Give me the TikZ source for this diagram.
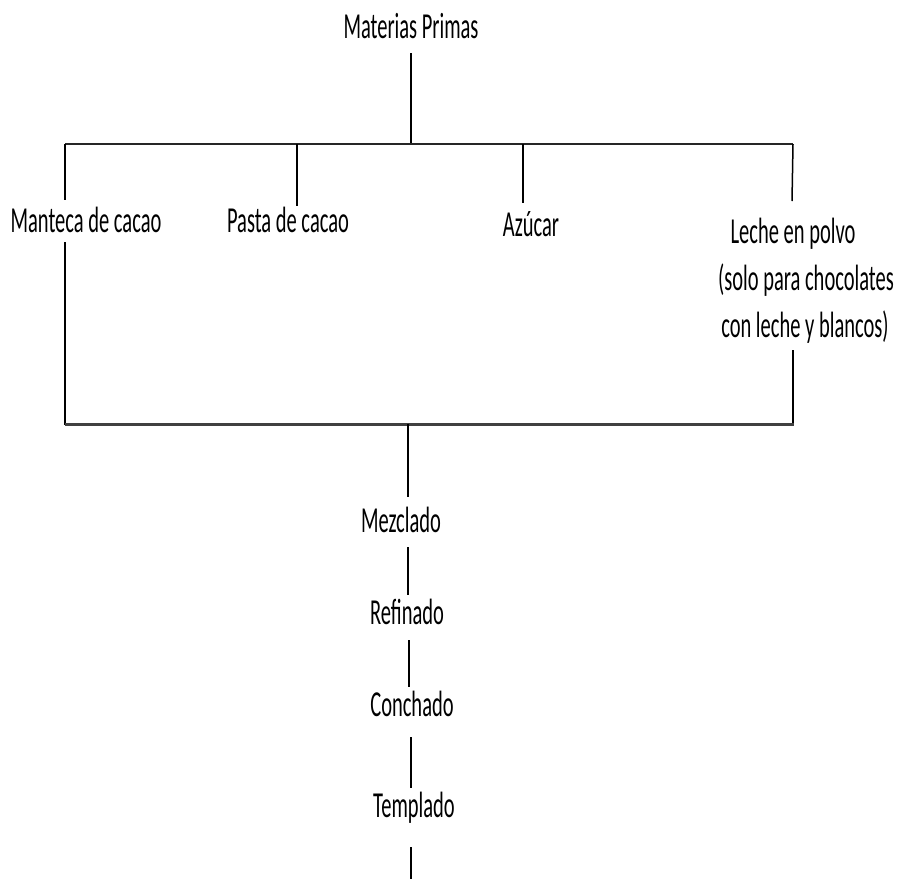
\documentclass[tikz,border=0pt]{standalone}
\usepackage{fontspec}
\setmainfont{Carlito}[FakeStretch=0.56]
\begin{document}
\begin{tikzpicture}[x=1pt,y=-1pt,
  lbl/.style={anchor=base,inner sep=0pt,font=\fontsize{36.6}{47}\selectfont,text=black},
  ln/.style={draw=black,line width=1.5pt},
  bar/.style={draw=black!85,line width=2pt},
  thickbar/.style={draw=black!75,line width=3pt}]
\useasboundingbox (0,0) rectangle (899,879);
% labels
\node[lbl] (mp) at (411,38) {Materias Primas};
\node[lbl] (mc) at (86,232) {Manteca de cacao};
\node[lbl] (pc) at (288,232) {Pasta de cacao};
\node[lbl] (az) at (531,236) {Azúcar};
\node[lbl] (lp1) at (793,243) {Leche en polvo};
\node[lbl] (lp2) at (806,290) {(solo para chocolates};
\node[lbl] (lp3) at (805,337) {con leche y blancos)};
\node[lbl] (mz) at (401,532) {Mezclado};
\node[lbl] (rf) at (407,624) {Refinado};
\node[lbl] (co) at (412,716) {Conchado};
\node[lbl] (te) at (414,817) {Templado};
% coordinates
\coordinate (t0) at (411,53);
\coordinate (tj) at (411,144);
\coordinate (tl) at (65,144);
\coordinate (tr) at (793,144);
\coordinate (a1) at (65,200);
\coordinate (p0) at (297,144);
\coordinate (p1) at (297,206);
\coordinate (z0) at (523,144);
\coordinate (z1) at (523,203);
\coordinate (l1) at (792,201);
\coordinate (mcb) at (65,242);
\coordinate (bl) at (65,425);
\coordinate (lpb) at (793,350);
\coordinate (br) at (793,425);
\coordinate (bj) at (408,424);
\coordinate (m0) at (408,497);
\coordinate (m1) at (408,547);
\coordinate (r0) at (408,595);
\coordinate (r1) at (409,640);
\coordinate (c0) at (409,687);
\coordinate (c1) at (411,737);
\coordinate (e0) at (411,788);
\coordinate (e1) at (411,847);
\coordinate (e2) at (411,879);
% lines
\draw[ln] (t0) -- (tj);
\draw[bar] (tl) -- (tr);
\draw[ln] (tl) -- (a1);
\draw[ln] (p0) -- (p1);
\draw[ln] (z0) -- (z1);
\draw[ln] (tr |- tl) -- (l1);
\draw[ln] (mcb) -- (bl);
\draw[ln] (lpb) -- (br);
\draw[thickbar] (65,424) -- (794,424);
\draw[ln] (bj) -- (m0);
\draw[ln] (m1) -- (r0);
\draw[ln] (r1) -- (c0);
\draw[ln] (c1) -- (e0);
\draw[ln] (e1) -- (e2);
\end{tikzpicture}
\end{document}
